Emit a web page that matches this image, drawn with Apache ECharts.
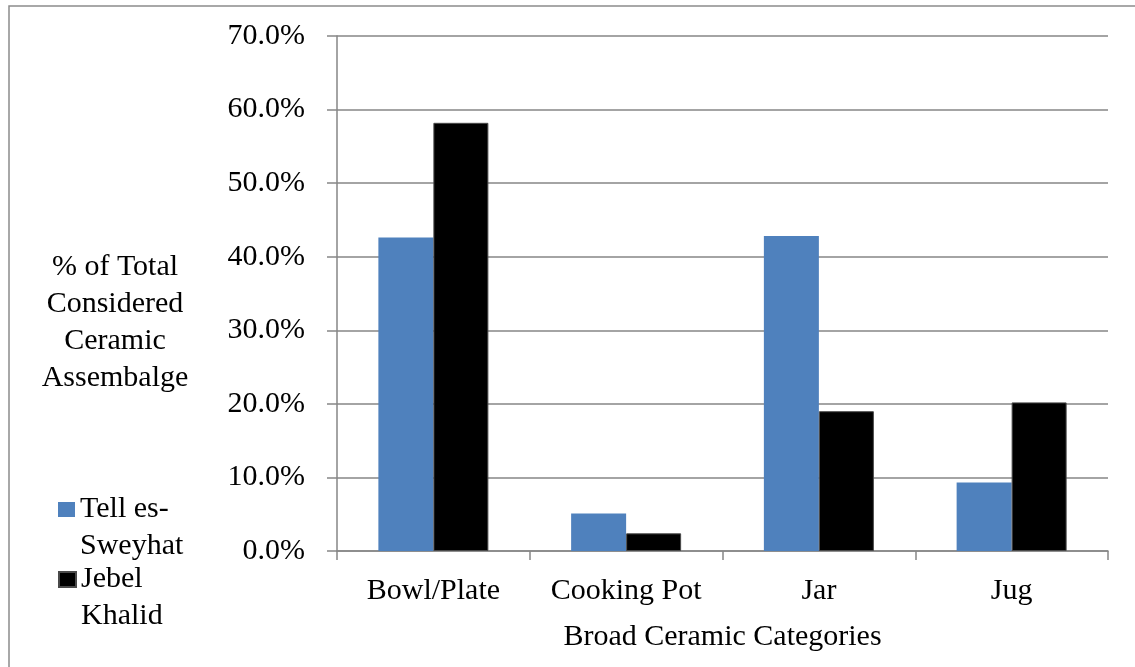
<!DOCTYPE html>
<html>
<head>
    <meta charset="utf-8" />
    <title>Broad Ceramic Categories</title>
    <script src="https://cdn.jsdelivr.net/npm/echarts@6/dist/echarts.min.js"></script>
    <style>
        html, body {
            width: 100%;
            height: 100%;
            margin: 0px;
            padding: 0px;
            background: #fff;
        }
        #main {
            width: 1135px;
            height: 667px;
        }
    </style>
</head>
<body>
    <div id="main"></div>
<script type="text/javascript">
    var categories = ['Bowl/Plate', 'Cooking Pot', 'Jar', 'Jug'];
    var tellSweyhat = [42.6, 5.1, 42.8, 9.3];
    var jebelKhalid = [58.2, 2.4, 19.0, 20.2];
    var yTicks = { min: 0, max: 70, interval: 10 };

    var font = '"Liberation Serif", "Times New Roman", serif';
    var gridGray = '#868686';

    var myChart = echarts.init(document.getElementById('main'));

    // legend text wraps in two lines, the icon sits at the first one
    // (a blank first line pushes the text block down)
    function legendBox(name, top) {
        return {
            data: [name],
            orient: 'vertical',
            left: 58,
            top: top,
            padding: 0,
            itemWidth: 17,
            itemHeight: 15,
            itemGap: 0,
            icon: 'rect',
            formatter: function (n) {
                return n === 'Tell es-Sweyhat' ? ' \nTell es-\nSweyhat' : ' \nJebel\nKhalid';
            },
            textStyle: {
                fontFamily: font,
                fontSize: 30,
                lineHeight: 37,
                color: '#000'
            }
        };
    }

    myChart.setOption({
        animation: false,
        backgroundColor: '#fff',
        grid: {
            left: 337,
            right: 27,
            top: 36,
            bottom: 116
        },
        legend: [
            legendBox('Tell es-Sweyhat', 454),
            legendBox('Jebel Khalid', 524)
        ],
        graphic: [{
            type: 'rect',
            shape: { x: 9, y: 6, width: 1200, height: 720 },
            style: { fill: 'none', stroke: '#8c8c8c', lineWidth: 1.5 },
            silent: true
        }, {
            type: 'text',
            x: 115,
            y: 323,
            style: {
                text: '% of Total\nConsidered\nCeramic\nAssembalge',
                fontFamily: font,
                fontSize: 30,
                lineHeight: 37,
                fill: '#000',
                align: 'center',
                verticalAlign: 'middle'
            }
        }],
        xAxis: {
            type: 'category',
            data: categories,
            name: 'Broad Ceramic Categories',
            nameLocation: 'middle',
            nameGap: 71,
            nameTextStyle: {
                fontFamily: font,
                fontSize: 30,
                color: '#000'
            },
            axisLine: { lineStyle: { color: gridGray, width: 1.5 } },
            axisTick: { show: true, length: 9, lineStyle: { color: gridGray, width: 1.5 } },
            axisLabel: {
                interval: 0,
                fontFamily: font,
                fontSize: 30,
                color: '#000',
                margin: 25
            }
        },
        yAxis: {
            type: 'value',
            min: yTicks.min,
            max: yTicks.max,
            interval: yTicks.interval,
            axisLine: { show: true, lineStyle: { color: gridGray, width: 1.5 } },
            axisTick: { show: true, length: 10, lineStyle: { color: gridGray, width: 1.5 } },
            splitLine: { lineStyle: { color: gridGray, width: 1.5 } },
            axisLabel: {
                fontFamily: font,
                fontSize: 30,
                color: '#000',
                margin: 32,
                padding: [4, 0, 0, 0],
                formatter: function (v) {
                    return v.toFixed(1) + '%';
                }
            }
        },
        series: [{
            name: 'Tell es-Sweyhat',
            type: 'bar',
            data: tellSweyhat,
            barWidth: 55,
            barGap: '0%',
            itemStyle: { color: '#4f81bd' }
        }, {
            name: 'Jebel Khalid',
            type: 'bar',
            data: jebelKhalid,
            barWidth: 55,
            itemStyle: { color: '#000000', borderColor: '#4a4a4a', borderWidth: 1 }
        }]
    });

    window.addEventListener('resize', function () {
        myChart.resize();
    });
</script>
</body>
</html>
